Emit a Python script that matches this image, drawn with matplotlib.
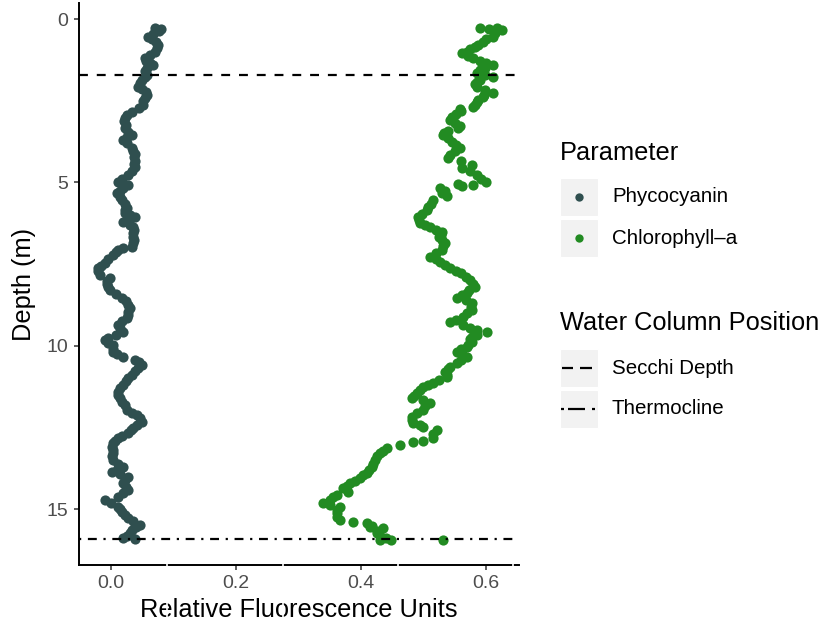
import matplotlib
matplotlib.use("Agg")
import matplotlib.pyplot as plt
from matplotlib.patches import Rectangle
from matplotlib.lines import Line2D

plt.rcParams['font.family'] = ['Liberation Sans', 'DejaVu Sans']

# ---------------- data ----------------
pc_depth = [0.28, 0.30, 0.38, 0.45, 0.55, 0.62, 0.70, 0.80, 0.90, 1.01, 1.10, 1.19, 1.28, 1.35, 1.41,
            1.50, 1.60, 1.70, 1.77, 1.85, 1.95, 2.08, 2.15, 2.24, 2.32, 2.42, 2.52, 2.63, 2.72, 2.84,
            2.94, 3.03, 3.13, 3.23, 3.33, 3.45, 3.55, 3.62, 3.70, 3.80, 3.94, 4.03, 4.13, 4.23, 4.33,
            4.43, 4.53, 4.65, 4.77, 4.88, 4.98, 5.08, 5.18, 5.25, 5.32, 5.43, 5.54, 5.65, 5.78, 5.85,
            5.93, 6.00, 6.06, 6.12, 6.21, 6.30, 6.36, 6.46, 6.56, 6.66, 6.76, 6.86, 6.97, 7.00, 7.06,
            7.14, 7.22, 7.34, 7.46, 7.54, 7.61, 7.72, 7.83, 7.92, 8.00, 8.10, 8.20, 8.30, 8.42, 8.53,
            8.64, 8.75, 8.85, 8.95, 9.05, 9.14, 9.25, 9.36, 9.46, 9.57, 9.66, 9.75, 9.82, 9.90, 9.97,
            10.08, 10.18, 10.26, 10.34, 10.43, 10.50, 10.58, 10.68, 10.78, 10.89, 10.98, 11.08, 11.19,
            11.30, 11.40, 11.50, 11.60, 11.71, 11.82, 11.96, 12.04, 12.11, 12.20, 12.32, 12.42, 12.50,
            12.58, 12.66, 12.74, 12.81, 12.90, 12.97, 13.08, 13.18, 13.28, 13.38, 13.49, 13.60, 13.70,
            13.78, 13.85, 13.93, 14.01, 14.10, 14.19, 14.30, 14.40, 14.50, 14.62, 14.71, 14.80, 14.92,
            15.00, 15.08, 15.18, 15.26, 15.36, 15.47, 15.55, 15.63, 15.72, 15.80, 15.87, 15.90]
pc_value = [0.070, 0.080, 0.077, 0.068, 0.059, 0.066, 0.072, 0.075, 0.073, 0.070, 0.062, 0.054, 0.056, 0.062, 0.068,
            0.058, 0.055, 0.057, 0.054, 0.050, 0.046, 0.043, 0.050, 0.056, 0.058, 0.055, 0.052, 0.051, 0.045, 0.034,
            0.026, 0.022, 0.021, 0.024, 0.022, 0.028, 0.034, 0.026, 0.019, 0.026, 0.034, 0.036, 0.038, 0.037, 0.038,
            0.037, 0.038, 0.033, 0.027, 0.018, 0.011, 0.027, 0.020, 0.014, 0.010, 0.014, 0.018, 0.022, 0.026, 0.022,
            0.022, 0.030, 0.038, 0.028, 0.019, 0.030, 0.035, 0.037, 0.036, 0.035, 0.037, 0.035, 0.033, 0.019, 0.012,
            0.008, 0.003, -0.004, -0.010, -0.016, -0.021, -0.020, -0.018, -0.002, -0.006, -0.006, -0.004, -0.002, 0.008, 0.018,
            0.024, 0.027, 0.030, 0.028, 0.027, 0.026, 0.018, 0.011, 0.014, 0.019, 0.008, -0.004, -0.010, -0.004, 0.003,
            0.004, 0.003, 0.010, 0.019, 0.038, 0.045, 0.050, 0.044, 0.038, 0.034, 0.028, 0.024, 0.019,
            0.014, 0.012, 0.011, 0.014, 0.018, 0.022, 0.026, 0.034, 0.042, 0.046, 0.050, 0.042, 0.036,
            0.032, 0.027, 0.018, 0.011, 0.006, 0.003, 0.002, 0.004, 0.003, 0.002, 0.004, 0.012, 0.019,
            0.010, 0.002, 0.015, 0.027, 0.022, 0.019, 0.024, 0.027, 0.020, 0.011, -0.010, 0.000, 0.011,
            0.015, 0.018, 0.022, 0.027, 0.036, 0.046, 0.040, 0.034, 0.030, 0.026, 0.019, 0.038]

chl_depth = [0.28, 0.30, 0.28, 0.33, 0.42, 0.55, 0.62, 0.70, 0.78, 0.86, 0.93, 1.01, 1.05, 1.12, 1.19,
             1.27, 1.35, 1.41, 1.50, 1.57, 1.65, 1.72, 1.77, 1.85, 1.93, 2.00, 2.08, 2.17, 2.26, 2.33,
             2.39, 2.47, 2.54, 2.62, 2.69, 2.75, 2.80, 2.90, 3.00, 3.09, 3.18, 3.27, 3.33, 3.42, 3.50,
             3.55, 3.65, 3.76, 3.85, 3.94, 4.05, 4.15, 4.25, 4.35, 4.46, 4.56, 4.65, 4.77, 4.88, 4.98,
             5.05, 5.12, 5.08, 5.17, 5.25, 5.32, 5.40, 5.54, 5.65, 5.74, 5.84, 5.95, 6.06, 6.15, 6.24,
             6.30, 6.36, 6.45, 6.51, 6.60, 6.67, 6.76, 6.85, 6.95, 7.06, 7.15, 7.28, 7.35, 7.43, 7.52,
             7.61, 7.70, 7.77, 7.88, 7.98, 8.10, 8.20, 8.30, 8.38, 8.45, 8.53, 8.60, 8.69, 8.80, 8.90,
             9.00, 9.11, 9.20, 9.27, 9.36, 9.45, 9.51, 9.57, 9.65, 9.72, 9.80, 9.88, 9.96, 10.03, 10.10,
             10.18, 10.26, 10.34, 10.43, 10.52, 10.64, 10.72, 10.80, 10.88, 10.95, 11.05, 11.13, 11.20,
             11.25, 11.35, 11.44, 11.52, 11.59, 11.66, 11.74, 11.85, 11.96, 12.06, 12.17, 12.26, 12.35,
             12.42, 12.48, 12.57, 12.68, 12.81, 12.90, 12.94, 13.03, 13.12, 13.20, 13.27, 13.38, 13.49,
             13.60, 13.70, 13.80, 13.88, 13.96, 14.04, 14.12, 14.19, 14.27, 14.34, 14.46, 14.55, 14.62,
             14.70, 14.80, 14.86, 14.92, 15.02, 15.11, 15.22, 15.32, 15.38, 15.41, 15.50, 15.54, 15.57,
             15.65, 15.72, 15.80, 15.87, 15.93, 15.93, 15.93]
chl_value = [0.590, 0.605, 0.618, 0.626, 0.615, 0.611, 0.600, 0.595, 0.588, 0.582, 0.575, 0.570, 0.562, 0.572, 0.579,
             0.590, 0.600, 0.611, 0.598, 0.590, 0.585, 0.598, 0.611, 0.590, 0.585, 0.582, 0.585, 0.598, 0.611, 0.597,
             0.595, 0.588, 0.585, 0.582, 0.579, 0.558, 0.560, 0.552, 0.545, 0.542, 0.550, 0.558, 0.556, 0.540, 0.533,
             0.531, 0.540, 0.545, 0.552, 0.558, 0.550, 0.542, 0.540, 0.560, 0.578, 0.562, 0.575, 0.585, 0.592, 0.600,
             0.555, 0.562, 0.579, 0.527, 0.535, 0.530, 0.537, 0.515, 0.512, 0.508, 0.505, 0.497, 0.491, 0.493, 0.494,
             0.502, 0.510, 0.520, 0.530, 0.528, 0.525, 0.530, 0.535, 0.532, 0.530, 0.520, 0.510, 0.520, 0.527, 0.535,
             0.542, 0.552, 0.560, 0.568, 0.574, 0.580, 0.582, 0.573, 0.570, 0.562, 0.554, 0.568, 0.578, 0.576, 0.577,
             0.570, 0.563, 0.552, 0.542, 0.563, 0.575, 0.585, 0.602, 0.585, 0.578, 0.575, 0.578, 0.572, 0.570, 0.560,
             0.554, 0.562, 0.570, 0.560, 0.554, 0.542, 0.540, 0.535, 0.537, 0.537, 0.525, 0.516, 0.508,
             0.500, 0.494, 0.490, 0.485, 0.481, 0.500, 0.510, 0.503, 0.500, 0.490, 0.482, 0.482, 0.483,
             0.495, 0.500, 0.521, 0.515, 0.515, 0.500, 0.483, 0.462, 0.441, 0.435, 0.430, 0.425, 0.422,
             0.420, 0.418, 0.413, 0.410, 0.404, 0.398, 0.390, 0.382, 0.377, 0.371, 0.379, 0.362, 0.355,
             0.350, 0.339, 0.350, 0.366, 0.362, 0.361, 0.362, 0.366, 0.387, 0.410, 0.418, 0.414, 0.435,
             0.425, 0.426, 0.430, 0.440, 0.430, 0.448, 0.531]

secchi_depth = 1.71
thermocline_depth = 15.9

x_ticks = [0.0, 0.2, 0.4, 0.6]
x_ticklabels = ['0.0', '0.2', '0.4', '0.6']
y_ticks = [0, 5, 10, 15]
y_ticklabels = ['0', '5', '10', '15']

param_labels = ['Phycocyanin', 'Chlorophyll\u2013a']
param_colors = ['#2F4F4F', '#228B22']
wcp_labels = ['Secchi Depth', 'Thermocline']

# ---------------- figure ----------------
W, H = 825, 630
fig = plt.figure(figsize=(W / 100, H / 100), dpi=100)

def fx(px):
    return px / W

def fy(py):
    return 1 - py / H

ax_l, ax_r, ax_t, ax_b = 79, 519, 3, 565
ax = fig.add_axes([fx(ax_l), fy(ax_b), fx(ax_r - ax_l), (ax_b - ax_t) / H])

ax.scatter(pc_value, pc_depth, s=54, color=param_colors[0], linewidths=0, zorder=3)
ax.scatter(chl_value, chl_depth, s=54, color=param_colors[1], linewidths=0, zorder=3)

lw = 1.6
ax.axhline(secchi_depth, color='black', lw=lw, ls=(0, (4, 4)), zorder=4)
ax.axhline(thermocline_depth, color='black', lw=lw, ls=(0, (1, 3, 4, 3)), zorder=4)

ax.set_xlim(-0.051, 0.653)
ax.set_ylim(16.70, -0.49)

ax.set_xticks(x_ticks)
ax.set_xticklabels(x_ticklabels)
ax.set_yticks(y_ticks)
ax.set_yticklabels(y_ticklabels)

for side in ['top', 'right']:
    ax.spines[side].set_visible(False)
for side in ['left', 'bottom']:
    ax.spines[side].set_linewidth(1.4)
    ax.spines[side].set_color('black')
ax.tick_params(axis='both', length=3.5, width=1.1, color='#333333',
               labelcolor='#4D4D4D', labelsize=14, pad=4)

ax.set_xlabel('Relative Fluorescence Units', fontsize=18.3, color='black', labelpad=4)
ax.set_ylabel('Depth (m)', fontsize=18.3, color='black', labelpad=8)

# white gaps across the bottom axis area
for gx in [167, 283, 398, 513]:
    fig.add_artist(Line2D([fx(gx), fx(gx)], [fy(ax_b - 1), 0], color='white', lw=1.2, zorder=10))

# ---------------- legends ----------------
key_bg = '#F2F2F2'
lx0, lx1 = 560, 598
fig.text(fx(560), fy(153), 'Parameter', fontsize=18.3, va='center', ha='left')
p_keys = [(178, 216), (219, 257)]
for (t, b), lab, col in zip(p_keys, param_labels, param_colors):
    fig.add_artist(Rectangle((fx(lx0), fy(b)), fx(lx1 - lx0), (b - t) / H,
                             facecolor=key_bg, edgecolor='white', lw=0.8))
    fig.add_artist(Line2D([fx(579)], [fy((t + b) / 2)], marker='o', ms=6,
                          color=col, mew=0, ls='none'))
    fig.text(fx(612), fy((t + b) / 2), lab, fontsize=14.8, va='center', ha='left')

fig.text(fx(560), fy(323), 'Water Column Position', fontsize=18.3, va='center', ha='left')
w_keys = [(349, 387), (390, 428)]
# legend key glyphs: list of (x0, x1) pixel segments per key
key_segments = [[(562, 573), (580, 592)],
                [(561, 563.5), (568, 585), (592, 594.5)]]
for (t, b), lab, segs in zip(w_keys, wcp_labels, key_segments):
    fig.add_artist(Rectangle((fx(lx0), fy(b)), fx(lx1 - lx0), (b - t) / H,
                             facecolor=key_bg, edgecolor='white', lw=0.8))
    for x0, x1 in segs:
        fig.add_artist(Line2D([fx(x0), fx(x1)], [fy((t + b) / 2)] * 2,
                              color='black', lw=lw, solid_capstyle='butt'))
    fig.text(fx(612), fy((t + b) / 2), lab, fontsize=14.8, va='center', ha='left')

fig.savefig('out.png', dpi=100)
